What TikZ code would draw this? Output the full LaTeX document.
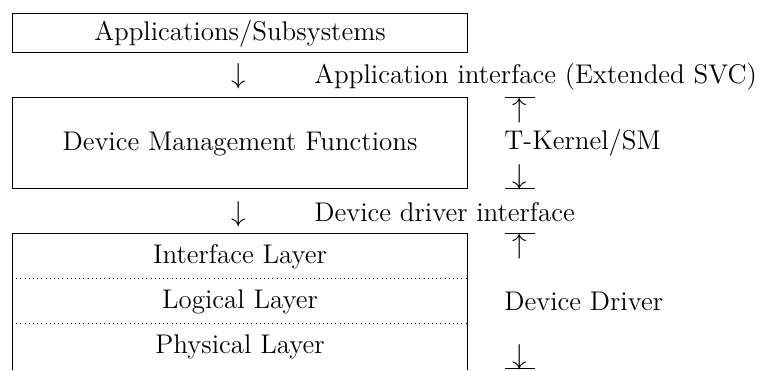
\documentclass[tikz,border=0pt]{standalone}
\begin{document}
\begin{tikzpicture}[x=0.5pt,y=-0.5pt,
  txt/.style={inner sep=0pt,font=\fontsize{13.5}{16}\selectfont},
  boxline/.style={line width=0.5pt},
  sepline/.style={line width=0.5pt,dash pattern=on 0.5pt off 1.6pt},
  barline/.style={line width=0.5pt}]
\useasboundingbox (0,0) rectangle (760,370);

% top box
\draw[boxline] (12,13) rectangle (467,52);
\node[txt,anchor=base] (apps) at (240,40) {Applications/Subsystems};

% application interface
\node[txt,anchor=base] (arr1) at (239,83) {$\downarrow$};
\node[txt,anchor=base west] (api) at (314,83) {Application interface (Extended SVC)};

% device management box
\draw[boxline] (12,97) rectangle (467,188);
\node[txt,anchor=base] (dmf) at (240,150) {Device Management Functions};

% T-Kernel/SM range
\coordinate (tk1) at (520,97);
\coordinate (tk2) at (520,188);
\draw[barline] ([xshift=-7.5pt]tk1) -- ([xshift=7.5pt]tk1);
\node[txt,anchor=north] (tkup) at ([yshift=-0.1pt]tk1) {$\uparrow$};
\node[txt,anchor=base west] (tks) at (504,149) {T-Kernel/SM};
\node[txt,anchor=south] (tkdn) at ([yshift=-1.2pt]tk2) {$\downarrow$};
\draw[barline] ([xshift=-7.5pt]tk2) -- ([xshift=7.5pt]tk2);

% device driver interface
\node[txt,anchor=base] (arr2) at (239,221) {$\downarrow$};
\node[txt,anchor=base west] (ddi) at (314,221) {Device driver interface};

% device driver layers, open at the bottom
\draw[boxline] (12,370) -- (12,233) -- (467,233) -- (467,370);
\node[txt,anchor=base] (ifl) at (240,263) {Interface Layer};
\draw[sepline] (12,278) -- (467,278);
\node[txt,anchor=base] (lgl) at (240,308) {Logical Layer};
\draw[sepline] (12,323) -- (467,323);
\node[txt,anchor=base] (phl) at (240,353) {Physical Layer};

% Device Driver range
\coordinate (dd1) at (520,233);
\coordinate (dd2) at (520,368);
\draw[barline] ([xshift=-7.5pt]dd1) -- ([xshift=7.5pt]dd1);
\node[txt,anchor=north] (ddup) at ([yshift=-0.1pt]dd1) {$\uparrow$};
\node[txt,anchor=base west] (dds) at (504,310) {Device Driver};
\node[txt,anchor=south] (dddn) at ([yshift=-1.2pt]dd2) {$\downarrow$};
\draw[barline] ([xshift=-7.5pt]dd2) -- ([xshift=7.5pt]dd2);
\end{tikzpicture}
\end{document}
